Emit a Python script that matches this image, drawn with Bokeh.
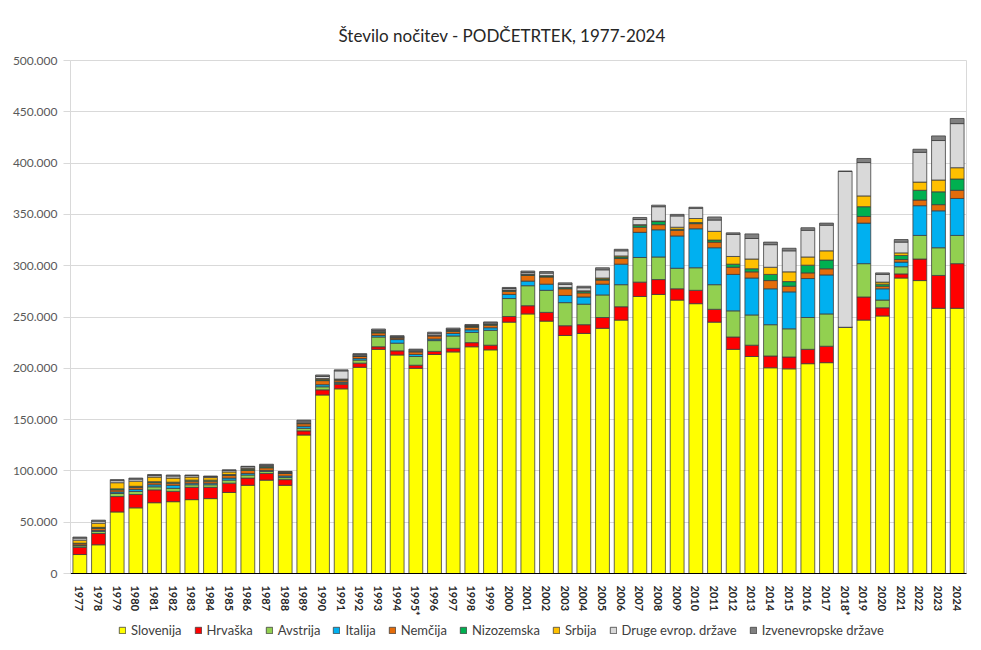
from bokeh.plotting import figure
from bokeh.layouts import column
from bokeh.models import (FactorRange, Range1d, Legend, LegendItem, CustomJSTickFormatter,
                          FixedTicker, ColumnDataSource)
from bokeh.embed import file_html
from bokeh.resources import INLINE

years = ["1977", "1978", "1979", "1980", "1981", "1982", "1983", "1984", "1985", "1986", "1987", "1988",
         "1989", "1990", "1991", "1992", "1993", "1994", "1995*", "1996", "1997", "1998", "1999", "2000",
         "2001", "2002", "2003", "2004", "2005", "2006", "2007", "2008", "2009", "2010", "2011", "2012",
         "2013", "2014", "2015", "2016", "2017", "2018*", "2019", "2020", "2021", "2022", "2023", "2024"]

# values in thousands of overnight stays
slovenija = [18.5, 28, 60, 64, 69, 70, 72, 73, 79, 86, 91, 86,
             135, 174, 180, 201, 218.5, 213, 200, 213.5, 216, 221, 218, 245,
             253, 246, 232, 234, 239, 247, 270, 272, 266.5, 263, 245, 218.5,
             211.5, 200.5, 199.5, 204.5, 205.5, 240, 247, 251, 288, 285.5, 258.5, 258.5]
hrvaska = [7, 11, 15, 13, 12.5, 10, 12, 11, 9, 7, 6.5, 5.5,
           4, 5, 4.5, 4, 2.5, 4, 3, 3, 3.5, 4, 4.5, 5.5,
           8, 8.5, 9.5, 8.5, 10.5, 13, 14, 14.5, 11, 13, 12.5, 12,
           11, 11.5, 11.5, 14, 16, 0, 22.5, 8, 4, 21, 32, 43.5]
avstrija = [1.5, 2, 3, 3, 3, 3, 2.5, 2.5, 3, 3, 2, 2,
            2.5, 3, 1, 3, 9.5, 7.5, 8.5, 10.5, 12, 10, 14.5, 17.5,
            19.5, 21.5, 22.5, 20, 22, 21.5, 24, 22, 20, 22, 24, 25.5,
            29.5, 30.5, 27.5, 31, 31.5, 0, 32.5, 7.5, 7, 23, 27, 27.5]
italija = [0.5, 1, 1.5, 2, 2, 3, 1.5, 1.5, 2, 1.5, 1, 1.5,
           2, 2, 1, 1.5, 1.5, 3.5, 2, 1.5, 2.5, 2.5, 2.5, 4,
           4.5, 6, 7, 7, 10.5, 20, 24.5, 26.5, 31.5, 38, 36, 35.5,
           36, 35, 36, 38, 38, 0, 39.5, 11, 4.5, 29, 36, 36]
nemcija = [1.5, 2, 2, 2, 2, 2, 2, 2, 2.5, 3, 2.5, 2.5,
           2.5, 4, 2, 2, 2.5, 1.5, 2.5, 3, 2, 2.5, 2.5, 3,
           5.5, 7, 6.5, 4, 4, 5.5, 5, 5, 5.5, 5, 5.5, 7,
           6, 8, 5.5, 5.5, 6, 0, 6.5, 2.5, 2.5, 5.5, 6, 8]
nizozemska = [0.5, 1, 1, 1, 1, 1, 1, 1, 1, 1, 1, 0.5,
              0.5, 1, 0.5, 0.5, 1, 0.5, 0.5, 0.5, 1, 1, 1, 1,
              1, 1, 1, 1.5, 1, 1.5, 2, 3, 1, 1, 2, 3,
              3, 6, 4.5, 7.5, 8.5, 0, 9.5, 2, 4, 9.5, 12.5, 11]
srbija = [3, 4, 6, 5, 4.5, 4, 3, 2.5, 2.5, 1, 0.5, 0.5,
          0.5, 1, 0.5, 0.3, 0.3, 0.3, 0.2, 0.2, 0.2, 0.2, 0.2, 0.3,
          0.3, 0.3, 0.3, 0.5, 1, 1, 0.5, 0.5, 2, 4, 8.5, 7.5,
          9.5, 7, 9.5, 8, 9, 0, 10.5, 2, 2.5, 8, 11.5, 11]
druge = [2, 2, 2, 2, 1.5, 2, 1.5, 1, 1.5, 1.5, 1, 0.5,
         1.5, 2, 8, 1, 1, 0.5, 1, 1.5, 0.5, 0.5, 1, 1.5,
         1.5, 2.5, 3, 3, 8, 5, 5, 14, 11, 10, 11, 21.5,
         20, 22, 20.5, 26, 25, 152, 32.5, 7.5, 10.5, 29, 38.5, 43]
izven = [1, 1, 1, 1, 1, 1, 0.5, 0.5, 0.5, 0.5, 1, 0.5,
         1, 1.5, 1, 1, 1.5, 1, 1, 1.5, 1.5, 1, 1, 1,
         1.5, 1.5, 1.5, 1.5, 2, 1.5, 2, 1.5, 1.5, 1, 3, 1.5,
         4.5, 2.5, 2.5, 2.5, 2, 0, 4, 1.5, 2.5, 3, 4.5, 5]

series_names = ["Slovenija", "Hrvaška", "Avstrija", "Italija", "Nemčija", "Nizozemska",
                "Srbija", "Druge evrop. države", "Izvenevropske države"]
series_values = [slovenija, hrvaska, avstrija, italija, nemcija, nizozemska, srbija, druge, izven]
colors = ["#FFFF00", "#FF0000", "#92D050", "#00B0F0", "#E46C0A", "#00B050",
          "#FFC000", "#D9D9D9", "#808080"]
y_ticks = [0, 50000, 100000, 150000, 200000, 250000, 300000, 350000, 400000, 450000, 500000]

data = {"year": years}
keys = []
for i, vals in enumerate(series_values):
    k = "s%d" % i
    keys.append(k)
    data[k] = [v * 1000 for v in vals]
source = ColumnDataSource(data)

FONT = "Lato"
W = 975
EDGE = "#3f3f3f"

p = figure(x_range=FactorRange(factors=years, range_padding=0),
           y_range=Range1d(0, 500000),
           width=W, height=618,
           output_backend="svg", toolbar_location=None,
           min_border_left=70, min_border_right=W - 966, min_border_top=60, min_border_bottom=37)

renderers = p.vbar_stack(keys, x="year", width=0.74, source=source, color=colors,
                         line_color=EDGE, line_width=0.8)

p.title.text = "Število nočitev - PODČETRTEK, 1977-2024"
p.title.align = "left"
p.title.offset = 268
p.title.text_font = FONT
p.title.text_font_size = "17px"
p.title.text_font_style = "normal"
p.title.text_color = "#262626"
p.title.standoff = 29

p.outline_line_color = "#D9D9D9"
p.xgrid.grid_line_color = None
p.ygrid.grid_line_color = "#D9D9D9"
p.ygrid.grid_line_width = 1

p.yaxis.ticker = FixedTicker(ticks=y_ticks)
p.yaxis.formatter = CustomJSTickFormatter(code="""
    return Math.round(tick).toString().replace(/\\B(?=(\\d{3})+(?!\\d))/g, '.');
""")
p.yaxis.major_label_text_font = FONT
p.yaxis.major_label_text_font_size = "12px"
p.yaxis.major_label_text_color = "#595959"
p.yaxis.axis_line_color = "#D9D9D9"
p.yaxis.major_tick_line_color = "#D9D9D9"
p.yaxis.major_tick_out = 7
p.yaxis.major_tick_in = 0
p.yaxis.minor_tick_line_color = None
p.yaxis.major_label_standoff = 6

p.xaxis.major_label_orientation = "vertical"
p.xaxis.major_label_text_font = FONT
p.xaxis.major_label_text_font_size = "11px"
p.xaxis.major_label_text_font_style = "bold"
p.xaxis.major_label_text_color = "#262626"
p.xaxis.axis_line_color = "#000000"
p.xaxis.major_tick_line_color = None
p.xaxis.major_label_standoff = 6

# separate strip for the legend, below the axis labels (its frame is aligned with the chart frame)
leg_fig = figure(width=W, height=24, x_range=Range1d(0, 1), y_range=Range1d(0, 1),
                 output_backend="svg", toolbar_location=None,
                 min_border_left=0, min_border_right=0, min_border_top=0, min_border_bottom=0)
leg_fig.axis.visible = False
leg_fig.grid.visible = False
leg_fig.outline_line_color = None
proxy = ColumnDataSource(dict(x=[0.5], top=[1]))
items = []
for name, c in zip(series_names, colors):
    r = leg_fig.vbar(x="x", top="top", width=0.5, source=proxy, fill_color=c,
                     line_color=EDGE, line_width=0.8)
    r.visible = False
    items.append(LegendItem(label=name, renderers=[r]))
legend = Legend(items=items, orientation="horizontal", location=(46, 2),
                label_text_font=FONT, label_text_font_size="13px", label_text_color="#404040",
                glyph_width=8, glyph_height=8, label_standoff=5, spacing=12,
                padding=2, margin=0, border_line_alpha=0, background_fill_alpha=0,
                label_height=14, inactive_fill_alpha=0)
leg_fig.add_layout(legend, "center")

layout = column(p, leg_fig, spacing=0)

open("out.html", "w").write(file_html(layout, INLINE))
